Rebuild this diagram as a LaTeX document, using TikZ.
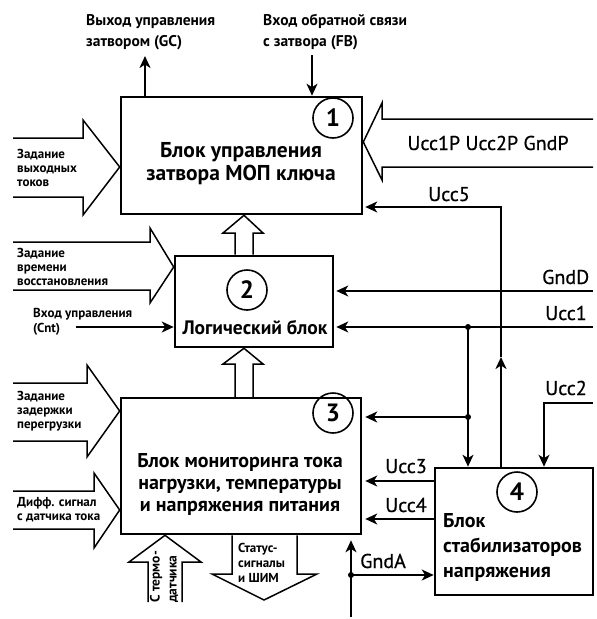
\documentclass[tikz,border=0pt]{standalone}
\usepackage{fontspec}
\setmainfont{PT Sans}
\newfontfamily\medfont[FakeBold=0.6]{PT Sans}
\usetikzlibrary{arrows.meta}

\begin{document}
\begin{tikzpicture}[x=1pt,y=-1pt,>={Stealth[length=12pt,width=11pt,inset=3.5pt]},
  box/.style={draw,line width=2.6pt,inner sep=0pt},
  num/.style={circle,draw,line width=1.6pt,minimum size=40pt,inner sep=0pt,font=\fontsize{25}{25}\selectfont\bfseries},
  fat/.style={line width=1.5pt,line join=miter},
  wire/.style={line width=2pt},
  lbl/.style={font=\fontsize{13}{14}\selectfont\bfseries,align=left,inner sep=0pt},
  sig/.style={font=\fontsize{20}{22}\medfont,inner sep=0pt},
  dot/.style={circle,fill,inner sep=0pt,minimum size=6pt}]
\useasboundingbox (0,0) rectangle (597,619);

% blocks
\node [box,minimum width=241pt,minimum height=117pt] (b1) at (241.5,155.5) {};
\node [box,minimum width=158pt,minimum height=91pt] (b2) at (254,301.5) {};
\node [box,minimum width=240pt,minimum height=136pt] (b3) at (241,466) {};
\node [box,minimum width=158pt,minimum height=127pt] (b4) at (514,531.5) {};
\node [num] (n1) at (333,118) {1};
\node [num] (n2) at (247,290) {2};
\node [num] (n3) at (333,413) {3};
\node [num] (n4) at (517,492) {4};
\node [align=center,inner sep=0pt,font=\fontsize{21.5}{23.5}\selectfont\bfseries] (t1) at (241,163.5) {Блок управления\\затвора МОП ключа};
\node [anchor=base,inner sep=0pt,font=\fontsize{19.5}{20}\selectfont\bfseries] (t2) at (255,334) {Логический блок};
\node [align=center,inner sep=0pt,font=\fontsize{20}{22}\selectfont\bfseries] (t3) at (240,484) {Блок мониторинга тока\\нагрузки, температуры\\и напряжения питания};
\node [anchor=west,align=left,inner sep=0pt,font=\fontsize{20}{25}\selectfont\bfseries] (t4) at (443,547) {Блок\\стабилизаторов\\напряжения};

% top
\node [anchor=west,align=left,inner sep=0pt,font=\fontsize{15.5}{21}\selectfont\bfseries] (gc) at (86,32) {Выход управления\\затвором (GC)};
\node [anchor=west,align=left,inner sep=0pt,font=\fontsize{15.5}{21}\selectfont\bfseries] (fb) at (263,32) {Вход обратной связи\\с затвора (FB)};
\coordinate (gcout) at (145,56);
\coordinate (fbin) at (312,55);
\draw [wire,->] (b1.north -| gcout) -- (gcout);
\draw [wire,->] (fbin) -- (b1.north -| fbin);

% left inputs
\draw [fat] (13,138) -- (83,138) -- (83,120) -- ([yshift=-11.5pt]b1.west) -- (83,215) -- (83,197) -- (13,197);
\node [lbl,anchor=west] (la) at (17,168) {Задание\\выходных\\токов};
\draw [fat] (13,242) -- (150,242) -- (150,228) -- ([yshift=34.5pt]b2.west) -- (150,303) -- (150,290) -- (13,290);
\node [lbl,anchor=west] (lb) at (17,267) {Задание\\времени\\восстановления};
\node [lbl,anchor=west,font=\fontsize{13}{15.5}\selectfont\bfseries] (cnt) at (33,322) {Вход управления\\(Cnt)};
\coordinate (cntin) at (76,327);
\draw [wire,->] (cntin) -- (cntin -| b2.west);
\draw [fat] (13,383) -- (87,383) -- (87,365) -- ([yshift=55pt]b3.west) -- (87,457) -- (87,441) -- (13,441);
\node [lbl,anchor=west] (lc) at (17,411) {Задание\\задержки\\перегрузки};
\draw [fat] (13,491) -- (94,491) -- (94,473) -- ([yshift=-44pt]b3.west) -- (94,548) -- (94,529) -- (13,529);
\node [lbl,anchor=west] (ld) at (17,509.5) {Дифф. сигнал\\с датчика тока};

% between blocks
\draw [fat] ([xshift=-19pt]b2.north) -- (235,233) -- (223,233) -- ([xshift=2.5pt]b1.south) -- (263,233) -- (253,233) -- ([xshift=-1pt]b2.north);
\draw [fat] (235,398) -- (235,364) -- (223,364) -- ([xshift=-10pt]b2.south) -- (263,364) -- (253,364) -- (253,398);

% bottom
\draw [fat] (148,602) -- (148,562) -- (129,562) -- ([xshift=-76pt]b3.south) -- (201,562) -- (182,562) -- (182,602);
\node [lbl,rotate=90,font=\fontsize{13.5}{17}\selectfont\bfseries] (lt) at (164,577) {С термо-\\датчика};
\draw [fat] ([xshift=-9pt]b3.south) -- (232,574) -- (212,574) -- (264,600) -- (317,574) -- (297,574) -- ([xshift=56pt]b3.south);
\node [lbl,anchor=west,font=\fontsize{13}{15}\selectfont\bfseries] (ls) at (238,563) {Статус-\\сигналы\\и ШИМ};

% supply
\draw [fat] (593,119) -- (382,119) -- (382,103) -- ([yshift=13.5pt]b1.east) -- (382,180) -- (382,167) -- (593,167);
\node [sig] (pw) at (488,143) {Ucc1P Ucc2P GndP};
\coordinate (c5) at (501,207);
\coordinate (m5) at (501,357);
\draw [wire,->] (b4.north -| c5) -- (m5);
\draw [wire,->,shorten >=2pt] (m5) -- (c5) -- (c5 -| b1.east);
\node [sig,anchor=base west] (l5) at (428,201) {Ucc5};
\coordinate (gndd) at (593,291);
\draw [wire,->,shorten >=2pt] (gndd) -- (gndd -| b2.east);
\node [sig,anchor=base west] (lgd) at (542,284) {GndD};
\coordinate (ucc1) at (593,327);
\coordinate (j1) at (468,327);
\coordinate (j2) at (468,417);
\draw [wire,->,shorten >=2pt] (ucc1) -- (ucc1 -| b2.east);
\draw [wire,->] (j1) -- (j1 |- b4.north);
\draw [wire,->,shorten >=3pt] (j2) -- (j2 -| b3.east);
\node [dot] (d1) at (j1) {};
\node [dot] (d2) at (j2) {};
\node [sig,anchor=base west] (l1) at (545,320) {Ucc1};
\coordinate (ucc2) at (593,403);
\coordinate (c2) at (544,403);
\draw [wire,->] (ucc2) -- (c2) -- (c2 |- b4.north);
\node [sig,anchor=base west] (l2) at (545,395) {Ucc2};
\coordinate (u3) at ([yshift=50.5pt]b4.west);
\coordinate (u4) at ([yshift=12.5pt]b4.west);
\draw [wire,->,shorten >=3pt] (u3) -- (u3 -| b3.east);
\draw [wire,->,shorten >=3pt] (u4) -- (u4 -| b3.east);
\node [sig,anchor=base west] (l3) at (385,473) {Ucc3};
\node [sig,anchor=base west] (l4) at (385,512) {Ucc4};
\coordinate (ga) at (351,617);
\coordinate (ja) at (351,575);
\draw [wire,->,shorten >=5pt] (ga) -- (ga |- b3.south);
\draw [wire,->] (ja) -- (ja -| b4.west);
\node [dot] (da) at (ja) {};
\node [sig,anchor=base west] (lga) at (360,568) {GndA};
\end{tikzpicture}
\end{document}
